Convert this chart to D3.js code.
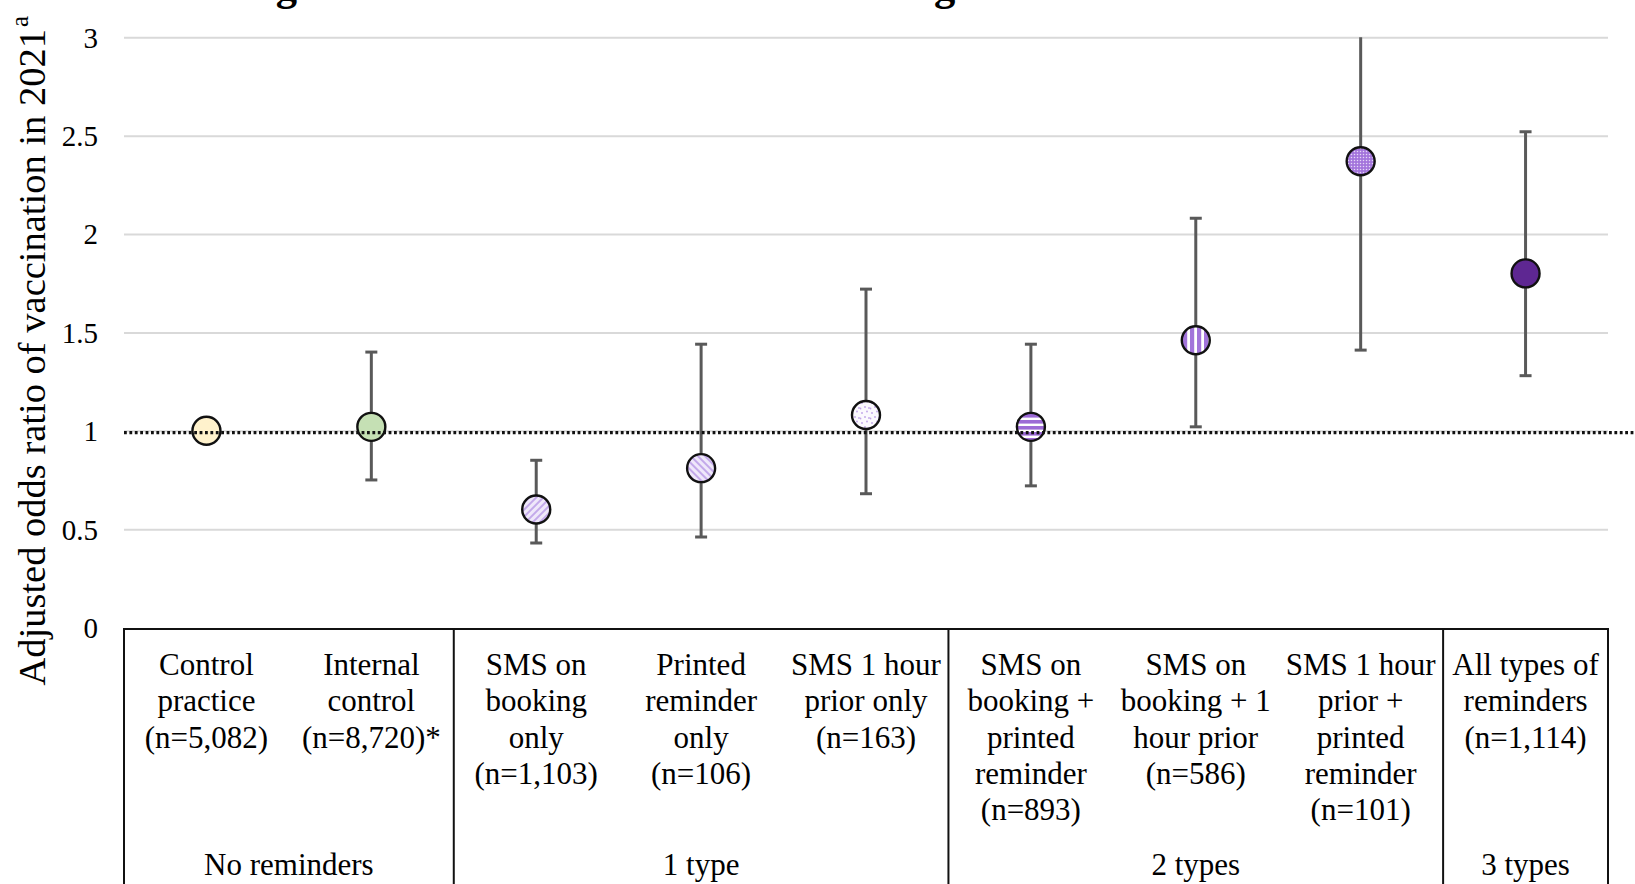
<!DOCTYPE html>
<html>
<head>
<meta charset="utf-8">
<script src="https://cdn.jsdelivr.net/npm/d3@7"></script>
<style>
  html, body { margin: 0; padding: 0; background: #fff; overflow: hidden; }
  svg { display: block; }
  text { font-family: "Liberation Serif", "Times New Roman", serif; fill: #000; }
</style>
</head>
<body>
<svg id="chart" width="1635" height="884"></svg>
<script>
// ---------------- data ----------------
const titleText = "Figure 2. Influenza vaccination coverage and reminder combination";
const yTitle = "Adjusted odds ratio of vaccination in 2021";
const yTitleSup = "a";
const categoryLabels = [
  ["Control", "practice", "(n=5,082)"],
  ["Internal", "control", "(n=8,720)*"],
  ["SMS on", "booking", "only", "(n=1,103)"],
  ["Printed", "reminder", "only", "(n=106)"],
  ["SMS 1 hour", "prior only", "(n=163)"],
  ["SMS on", "booking +", "printed", "reminder", "(n=893)"],
  ["SMS on", "booking + 1", "hour prior", "(n=586)"],
  ["SMS 1 hour", "prior +", "printed", "reminder", "(n=101)"],
  ["All types of", "reminders", "(n=1,114)"]
];
const oddsRatio = [1.00, 1.02, 0.60, 0.81, 1.08, 1.02, 1.46, 2.37, 1.80];
const ciLower   = [null, 0.75, 0.43, 0.46, 0.68, 0.72, 1.02, 1.41, 1.28];
const ciUpper   = [null, 1.40, 0.85, 1.44, 1.72, 1.44, 2.08, 3.90, 2.52];
const groupNames = ["No reminders", "1 type", "2 types", "3 types"];
const groupSizes = [2, 3, 3, 1];
const yTicks = [0, 0.5, 1, 1.5, 2, 2.5, 3];
const referenceValue = 1;

// ---------------- layout ----------------
const svg = d3.select("#chart");
const W = 1635, H = 884;
const plotLeft = 124, plotRight = 1608, plotTop = 37.3, plotBottom = 627.5;

const x = d3.scaleBand().domain(d3.range(categoryLabels.length)).range([plotLeft, plotRight]).padding(0);
const y = d3.scaleLinear().domain([0, 3]).range([plotBottom, plotTop]);

// ---------------- patterns ----------------
const defs = svg.append("defs");
function stripePattern(id, angle, bg, fg, size, lineW) {
  const p = defs.append("pattern").attr("id", id).attr("patternUnits", "userSpaceOnUse")
    .attr("width", size).attr("height", size).attr("patternTransform", `rotate(${angle})`);
  p.append("rect").attr("width", size).attr("height", size).attr("fill", bg);
  p.append("rect").attr("width", lineW).attr("height", size).attr("fill", fg);
}
stripePattern("pDiagUp", 45, "#EFE8FA", "#C3A9EA", 5, 2);
stripePattern("pDiagDown", -45, "#EFE8FA", "#C3A9EA", 5, 2);
stripePattern("pHoriz", 90, "#FFFFFF", "#9C6AD6", 6, 3.6);
stripePattern("pVert", 0, "#FFFFFF", "#A274DA", 7, 4.2);
{
  const p = defs.append("pattern").attr("id", "pSparse").attr("patternUnits", "userSpaceOnUse")
    .attr("width", 10).attr("height", 10);
  p.append("rect").attr("width", 10).attr("height", 10).attr("fill", "#FBF9FE");
  [[2,3],[7,1.5],[5,7],[9,8],[0.5,8.5]].forEach(([cx, cy]) =>
    p.append("circle").attr("cx", cx).attr("cy", cy).attr("r", 0.9).attr("fill", "#BFA3E8"));
}
{
  const p = defs.append("pattern").attr("id", "pDense").attr("patternUnits", "userSpaceOnUse")
    .attr("width", 3).attr("height", 3);
  p.append("rect").attr("width", 3).attr("height", 3).attr("fill", "#A475DC");
  p.append("circle").attr("cx", 1.5).attr("cy", 1.5).attr("r", 0.75).attr("fill", "#E6D8F7");
}
const markerFills = ["#FFF2CC", "#C5E0B4", "url(#pDiagUp)", "url(#pDiagDown)", "url(#pSparse)",
                     "url(#pHoriz)", "url(#pVert)", "url(#pDense)", "#5E2792"];

defs.append("clipPath").attr("id", "plotClip").append("rect")
  .attr("x", 0).attr("y", plotTop).attr("width", W).attr("height", plotBottom - plotTop);

// ---------------- title (cut off at the top, as in the reference) ----------------
svg.append("text").attr("x", 238).attr("y", 0.3)
  .attr("font-size", 42.6).attr("font-weight", "bold").text(titleText);

// ---------------- grid + y axis ----------------
const grid = svg.append("g").attr("transform", `translate(${plotLeft},0)`)
  .call(d3.axisLeft(y).tickValues(yTicks.filter(t => t > 0)).tickSize(-(plotRight - plotLeft)).tickFormat(""));
grid.select(".domain").remove();
grid.selectAll(".tick line").attr("stroke", "#D9D9D9").attr("stroke-width", 2);

const yAxis = svg.append("g").attr("transform", `translate(${plotLeft},0)`)
  .call(d3.axisLeft(y).tickValues(yTicks).tickSize(0).tickPadding(26).tickFormat(d3.format("")));
yAxis.select(".domain").remove();
yAxis.selectAll(".tick text")
  .attr("font-family", "Liberation Serif, Times New Roman, serif")
  .attr("font-size", 29).attr("fill", "#1a1a1a").attr("dy", "0.34em");

// y title
const yt = svg.append("text").attr("transform", `translate(45,${(plotBottom + 70 + 4) / 2}) rotate(-90)`)
  .attr("text-anchor", "middle").attr("font-size", 38.5);
yt.append("tspan").text(yTitle);
yt.append("tspan").attr("font-size", 25).attr("dy", "-0.7em").attr("dx", "2").text(yTitleSup);

// ---------------- error bars ----------------
const idx = d3.range(categoryLabels.length);
const cx = i => x(i) + x.bandwidth() / 2;
const bars = svg.append("g").attr("clip-path", "url(#plotClip)");
idx.filter(i => ciLower[i] !== null).forEach(i => {
  const g = bars.append("g").attr("stroke", "#595959").attr("stroke-width", 3);
  g.append("line").attr("x1", cx(i)).attr("x2", cx(i)).attr("y1", y(ciLower[i])).attr("y2", y(ciUpper[i]));
  [ciLower[i], ciUpper[i]].forEach(v => {
    g.append("line").attr("x1", cx(i) - 6).attr("x2", cx(i) + 6).attr("y1", y(v)).attr("y2", y(v));
  });
});

// ---------------- markers ----------------
svg.append("g").selectAll("circle").data(idx).join("circle")
  .attr("cx", i => cx(i)).attr("cy", i => y(oddsRatio[i])).attr("r", 14)
  .attr("fill", i => markerFills[i]).attr("stroke", "#111").attr("stroke-width", 2.4);

// ---------------- reference dotted line ----------------
svg.append("line").attr("x1", plotLeft).attr("x2", W)
  .attr("y1", y(referenceValue) + 1.8).attr("y2", y(referenceValue) + 1.8)
  .attr("stroke", "#111").attr("stroke-width", 3.2).attr("stroke-dasharray", "2.8 2.6");

// ---------------- table ----------------
const table = svg.append("g").attr("stroke", "#111").attr("stroke-width", 2);
const tableTop = 629;
table.append("line").attr("x1", plotLeft).attr("x2", plotRight).attr("y1", tableTop).attr("y2", tableTop);
let acc = 0;
const boundaries = [0];
groupSizes.forEach(s => { acc += s; boundaries.push(acc); });
boundaries.forEach(b => {
  const xx = b < categoryLabels.length ? x(b) : plotRight;
  table.append("line").attr("x1", xx).attr("x2", xx).attr("y1", tableTop - 1).attr("y2", H + 5);
});

const lineH = 36.3, firstBase = 675;
idx.forEach(i => {
  const t = svg.append("text").attr("text-anchor", "middle").attr("font-size", 31);
  categoryLabels[i].forEach((ln, k) => {
    t.append("tspan").attr("x", cx(i)).attr("y", firstBase + k * lineH).text(ln);
  });
});
groupNames.forEach((g, j) => {
  const start = boundaries[j], end = boundaries[j + 1];
  const gx = (x(start) + (end < categoryLabels.length ? x(end) : plotRight)) / 2;
  svg.append("text").attr("x", gx).attr("y", 875).attr("text-anchor", "middle")
    .attr("font-size", 31).text(g);
});
</script>
</body>
</html>
